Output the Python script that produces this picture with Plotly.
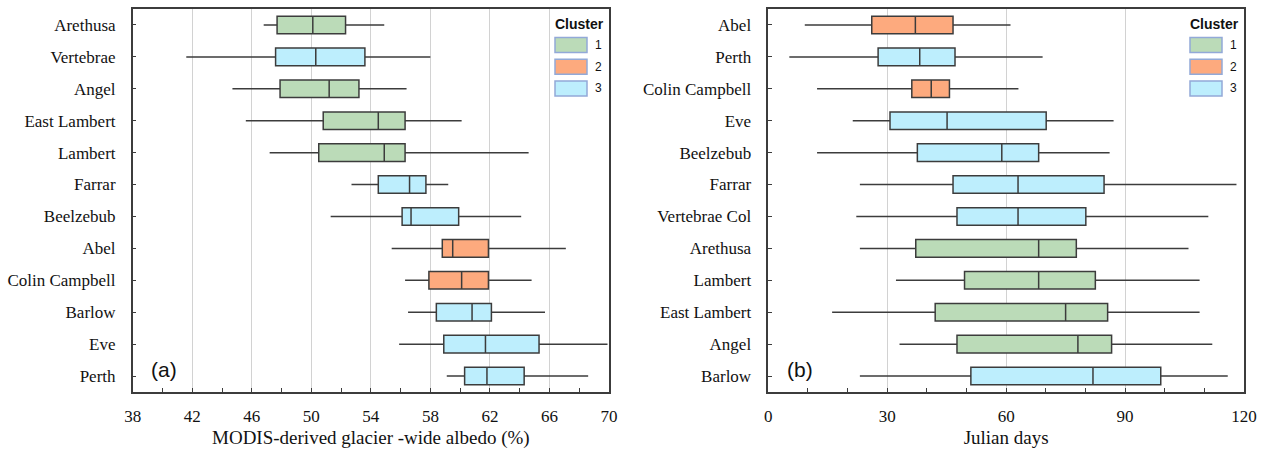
import plotly.graph_objects as go

# ---------------- data ----------------
clusters = ["1", "2", "3"]
cluster_colors = {"1": "#BBDBB8", "2": "#FDAA7E", "3": "#BDEEFD"}

# Panel (a): MODIS-derived glacier-wide albedo (%)
a_names = ["Arethusa", "Vertebrae", "Angel", "East Lambert", "Lambert", "Farrar",
           "Beelzebub", "Abel", "Colin Campbell", "Barlow", "Eve", "Perth"]
a_cluster = ["1", "3", "1", "1", "1", "3", "3", "2", "2", "3", "3", "3"]
a_low = [46.8, 41.6, 44.7, 45.6, 47.2, 52.7, 51.3, 55.4, 56.3, 56.5, 55.9, 59.1]
a_q1 = [47.7, 47.6, 47.9, 50.8, 50.5, 54.5, 56.1, 58.8, 57.9, 58.4, 58.9, 60.3]
a_med = [50.1, 50.3, 51.2, 54.5, 54.9, 56.6, 56.7, 59.5, 60.1, 60.8, 61.7, 61.8]
a_q3 = [52.3, 53.6, 53.2, 56.3, 56.3, 57.7, 59.9, 61.9, 61.9, 62.1, 65.3, 64.3]
a_high = [54.9, 58.0, 56.4, 60.1, 64.6, 59.2, 64.1, 67.1, 64.8, 65.7, 69.9, 68.6]

# Panel (b): Julian days
b_names = ["Abel", "Perth", "Colin Campbell", "Eve", "Beelzebub", "Farrar",
           "Vertebrae Col", "Arethusa", "Lambert", "East Lambert", "Angel", "Barlow"]
b_cluster = ["2", "3", "2", "3", "3", "3", "3", "1", "1", "1", "1", "3"]
b_low = [9.2, 5.3, 12.3, 21.3, 12.3, 23.1, 22.2, 23.1, 32.2, 16.1, 33.1, 23.1]
b_q1 = [26.1, 27.7, 36.2, 30.7, 37.6, 46.6, 47.6, 37.2, 49.5, 42.1, 47.6, 51.1]
b_med = [37.1, 38.2, 41.1, 45.1, 58.9, 63.0, 63.0, 68.2, 68.2, 75.0, 78.1, 81.9]
b_q3 = [46.6, 47.1, 45.7, 70.1, 68.2, 84.7, 80.1, 77.7, 82.5, 85.6, 86.6, 99.0]
b_high = [61.1, 69.2, 63.1, 87.1, 86.1, 118.1, 111.0, 106.0, 108.8, 108.8, 112.0, 115.9]

a_title = "MODIS-derived glacier -wide albedo (%)"
b_title = "Julian days"
a_ticks = [38, 42, 46, 50, 54, 58, 62, 66, 70]
b_ticks = [0, 30, 60, 90, 120]

# ---------------- figure ----------------
SERIF = "Liberation Serif"
SANS = "Liberation Sans"
LINE = "#3c3c3c"

fig = go.Figure()


def add_panel(names, cl, low, q1, med, q3, high, xa, ya):
    for c in clusters:
        idx = [i for i, k in enumerate(cl) if k == c]
        if not idx:
            continue
        fig.add_trace(go.Box(
            orientation="h",
            y=[names[i] for i in idx],
            lowerfence=[low[i] for i in idx],
            q1=[q1[i] for i in idx],
            median=[med[i] for i in idx],
            q3=[q3[i] for i in idx],
            upperfence=[high[i] for i in idx],
            boxpoints=False,
            whiskerwidth=0,
            width=0.55,
            fillcolor=cluster_colors[c],
            line=dict(color=LINE, width=1.5),
            name=c,
            showlegend=False,
            hoverinfo="x+y",
            xaxis=xa, yaxis=ya,
        ))


add_panel(a_names, a_cluster, a_low, a_q1, a_med, a_q3, a_high, "x", "y")
add_panel(b_names, b_cluster, b_low, b_q1, b_med, b_q3, b_high, "x2", "y2")

W, H = 1265, 453
ML, MR, MT, MB = 0, 21, 9, 61
PW = W - ML - MR

a_dom = [132.7 / PW, 609.0 / PW]
b_dom = [768.3 / PW, 1.0]


def xaxis(dom, rng, ticks, minor_dtick, title, anchor):
    return dict(
        domain=dom, range=rng, anchor=anchor,
        tickmode="array", tickvals=ticks, ticktext=[str(t) for t in ticks],
        ticks="inside", ticklen=4, tickwidth=1, tickcolor=LINE,
        minor=dict(dtick=minor_dtick, ticks="inside", ticklen=4, tickwidth=1,
                   tickcolor=LINE, showgrid=False),
        showgrid=True, gridcolor="#d2d2d2", gridwidth=1,
        showline=True, linecolor=LINE, linewidth=1.5, mirror=True,
        zeroline=False,
        tickfont=dict(family=SERIF, size=17, color="#111"),
        ticklabelstandoff=8,
        title=dict(text=title, font=dict(family=SERIF, size=19, color="#111"), standoff=6),
        automargin=False,
    )


def yaxis(names, anchor):
    return dict(
        domain=[0, 1], anchor=anchor,
        type="category", categoryorder="array", categoryarray=names,
        range=[len(names) - 0.5, -0.5],
        ticks="inside", ticklen=4, tickwidth=1, tickcolor=LINE,
        showgrid=False, showline=True, linecolor=LINE, linewidth=1.5, mirror=True,
        zeroline=False,
        tickfont=dict(family=SERIF, size=17, color="#111"),
        ticklabelstandoff=12,
        automargin=False,
    )


fig.update_layout(
    width=W, height=H,
    margin=dict(l=ML, r=MR, t=MT, b=MB),
    paper_bgcolor="white", plot_bgcolor="white",
    boxmode="overlay",
    showlegend=False,
    xaxis=xaxis(a_dom, [a_ticks[0], a_ticks[-1]], a_ticks, 2, a_title, "y"),
    yaxis=yaxis(a_names, "x"),
    xaxis2=xaxis(b_dom, [b_ticks[0], b_ticks[-1]], b_ticks, 10, b_title, "y2"),
    yaxis2=yaxis(b_names, "x2"),
)

# panel labels
for lab, xref, yref in [("(a)", "x domain", "y domain"), ("(b)", "x2 domain", "y2 domain")]:
    fig.add_annotation(text=lab, xref=xref, yref=yref, x=0.035, y=0.06,
                       xanchor="left", yanchor="middle", showarrow=False,
                       font=dict(family=SANS, size=21, color="#111"))

# cluster legends (one per panel)
for xref, yref, dom in [("x domain", "y domain", a_dom), ("x2 domain", "y2 domain", b_dom)]:
    pw = (dom[1] - dom[0]) * PW  # panel width in px
    ph = H - MT - MB
    def fx(px_from_right):
        return 1 - px_from_right / pw
    def fy(px_from_top):
        return 1 - px_from_top / ph
    fig.add_annotation(text="<b>Cluster</b>", xref=xref, yref=yref,
                       x=fx(30), y=fy(15), xanchor="center", yanchor="middle",
                       showarrow=False, font=dict(family=SANS, size=14, color="#111"))
    for i, c in enumerate(clusters):
        yc = 36 + i * 21.7
        fig.add_shape(type="rect", xref=xref, yref=yref,
                      x0=fx(54), x1=fx(22), y0=fy(yc - 7.5), y1=fy(yc + 7.5),
                      fillcolor=cluster_colors[c], line=dict(color="#92A9D8", width=1.5),
                      layer="above")
        fig.add_annotation(text=c, xref=xref, yref=yref, x=fx(16), y=fy(yc),
                           xanchor="left", yanchor="middle", showarrow=False,
                           font=dict(family=SANS, size=12, color="#111"))

fig.write_html("out.html")
